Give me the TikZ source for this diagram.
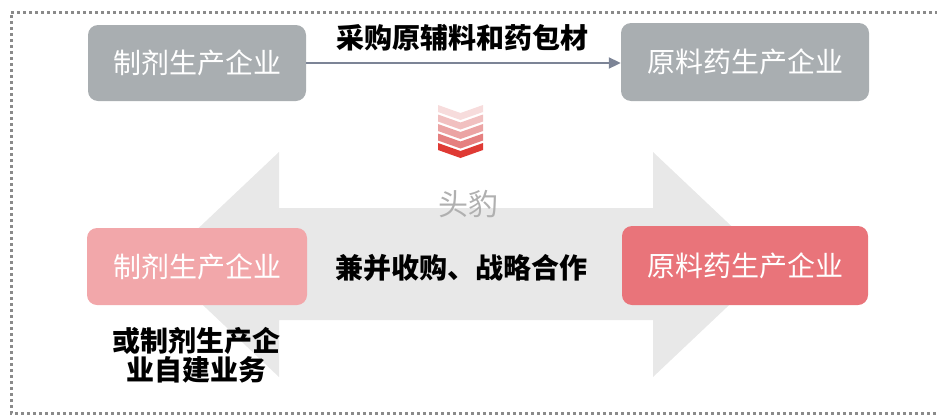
\documentclass[tikz,border=0pt]{standalone}
\usepackage{fontspec}
\setmainfont{Noto Sans CJK SC}
\usetikzlibrary{arrows.meta}
\definecolor{boxgray}{HTML}{A9AEB1}
\definecolor{pinklight}{HTML}{F2A7AA}
\definecolor{pinkdark}{HTML}{E9747A}
\definecolor{bigarrow}{HTML}{E8E8E8}
\definecolor{linkcol}{HTML}{7C8496}
\definecolor{wmark}{HTML}{B0B0B0}
\definecolor{bordercol}{HTML}{8A8A8A}
\definecolor{chA}{HTML}{F7DCDC}
\definecolor{chB}{HTML}{F1C0C0}
\definecolor{chC}{HTML}{EBA4A4}
\definecolor{chD}{HTML}{E58080}
\definecolor{chE}{HTML}{DF3A34}
\tikzset{
  cbox/.style={rounded corners=10pt, inner sep=0pt, text=white,
    font=\fontsize{28}{30}\selectfont},
  blacklbl/.style={inner sep=0pt, text=black, font=\fontsize{28}{29}\selectfont\bfseries},
  link/.style={draw=linkcol, line width=2pt, -{Triangle[length=12pt,width=11pt]}},
}
\begin{document}
\begin{tikzpicture}[x=1pt,y=-1pt]
\useasboundingbox (0,0) rectangle (937,418);
% dashed frame (right side outside picture)
\draw[bordercol, line width=3pt, dash pattern=on 3pt off 3pt]
  (950,12) -- (11,12) -- (11,413) -- (950,413);
% big double arrow
\fill[bigarrow] (160,264.5) -- (279,152) -- (279,208) -- (653,208) -- (653,152)
  -- (772,264.5) -- (653,377) -- (653,320) -- (279,320) -- (279,377) -- cycle;
% chevrons
\foreach \yy/\cc in {105/chA,114.5/chB,124/chC,133.5/chD,143/chE}{
  \fill[\cc] (438,\yy) -- (460.5,\yy+8) -- (483,\yy) -- (483,\yy+7)
    -- (460.5,\yy+15) -- (438,\yy+7) -- cycle;
}
% watermark
\node[inner sep=0pt, text=wmark, font=\fontsize{30}{32}\selectfont] (wm) at (468,204) {头豹};
% top row
\node[cbox, fill=boxgray, minimum width=218pt, minimum height=76pt] (tl) at (197,63) {制剂生产企业};
\node[cbox, fill=boxgray, minimum width=248pt, minimum height=78pt] (tr) at (745,62) {原料药生产企业};
\draw[link] (tl.east |- 0,63) -- (tr.west |- 0,63);
\node[blacklbl] (buy) at (462,38) {采购原辅料和药包材};
% bottom row
\node[cbox, fill=pinklight, minimum width=220pt, minimum height=77pt] (bl) at (197,266.5) {制剂生产企业};
\node[cbox, fill=pinkdark, minimum width=246pt, minimum height=79pt] (br) at (745,265.5) {原料药生产企业};
\node[blacklbl] (mna) at (461.5,267.5) {兼并收购、战略合作};
\node[blacklbl, align=center] (self) at (196,355) {或制剂生产企\\业自建业务};
\end{tikzpicture}
\end{document}
